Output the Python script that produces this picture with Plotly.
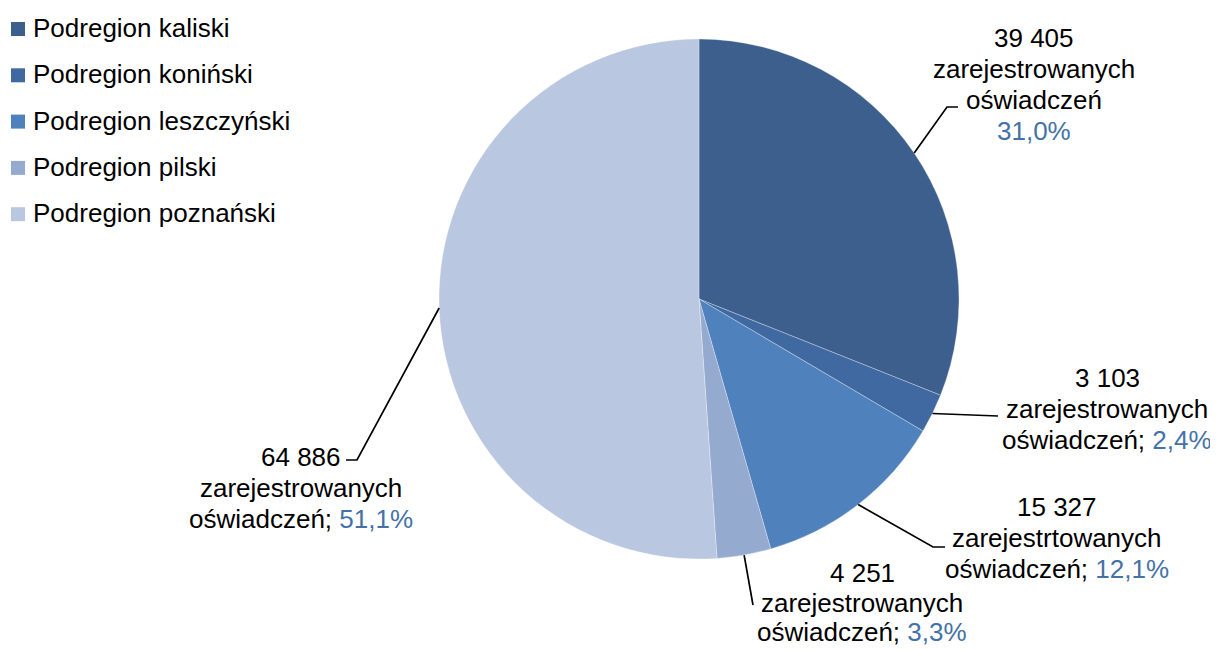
import math
import plotly.graph_objects as go

# ---------------- data ----------------
categories = ["Podregion kaliski", "Podregion koniński", "Podregion leszczyński",
              "Podregion pilski", "Podregion poznański"]
values = [39405, 3103, 15327, 4251, 64886]
label_words = ["zarejestrowanych", "zarejestrowanych", "zarejestrtowanych",
               "zarejestrowanych", "zarejestrowanych"]
percent_on_new_line = [True, False, False, False, False]

colors = ["#3C5F8D", "#4069A2", "#4F81BD", "#95AACF", "#BAC7E1"]
pct_color = "#4472A8"

# page offset (body margin) and figure size so that it fills the window
OFF = 8
W, H = 1218 - OFF, 650 - OFF
CX, CY, R = 699, 299, 260
FONT = "Liberation Sans, Arial, sans-serif"

def px(x):
    return (x - OFF) / W

def py(y):
    return 1 - (y - OFF) / H

total = sum(values)

fig = go.Figure()
fig.add_trace(go.Pie(
    labels=categories, values=values, sort=False, direction="clockwise",
    rotation=0, textinfo="none", hoverinfo="label+value+percent",
    marker=dict(colors=colors, line=dict(color="rgba(255,255,255,0.6)", width=0.5)),
    domain=dict(x=[px(CX - R), px(CX + R)], y=[py(CY + R), py(CY - R)]),
    showlegend=False,
))

# label placement (layout, pixels): x centre, first-line y, line step, elbow points
label_pos = [(1034, 38, 31), (1107, 378, 31), (1057, 507, 31), (862, 573, 29.5), (301, 457, 31)]
elbows = [
    [(947, 107), (958, 107)],
    [(998, 416)],
    [(933, 547), (945, 547)],
    [(753, 605)],
    [(357, 460), (346, 460)],
]

annotations = []
shapes = []
cum = 0
for i, (cat, v) in enumerate(zip(categories, values)):
    frac = v / total
    mid = (cum + frac / 2) * 2 * math.pi
    cum += frac
    sx = CX + R * math.sin(mid)
    sy = CY - R * math.cos(mid)
    num = f"{v:,}".replace(",", " ")
    pct = f"{frac*100:.1f}".replace(".", ",") + "%"
    pct_html = f"<span style='color:{pct_color}'>{pct}</span>"
    if percent_on_new_line[i]:
        lines = [num, label_words[i], "oświadczeń", pct_html]
    else:
        lines = [num, label_words[i], f"oświadczeń; {pct_html}"]
    lx, ly, dy = label_pos[i]
    for k, line in enumerate(lines):
        annotations.append(dict(
            x=px(lx), y=py(ly + k * dy), xref="paper", yref="paper", text=line,
            showarrow=False, xanchor="center", yanchor="middle", align="center",
            font=dict(family=FONT, size=26, color="#000000"),
        ))
    pts = [(sx, sy)] + elbows[i]
    path = "M " + " L ".join(f"{px(a)},{py(b)}" for a, b in pts)
    shapes.append(dict(type="path", xref="paper", yref="paper", path=path,
                       line=dict(color="#000000", width=1.7)))

# legend (drawn manually for exact spacing)
leg_y0, leg_dy = 29, 46.3
for i, cat in enumerate(categories):
    yc = leg_y0 + i * leg_dy
    shapes.append(dict(type="rect", xref="paper", yref="paper",
                       x0=px(11), x1=px(25), y0=py(yc + 7), y1=py(yc - 7),
                       fillcolor=colors[i], line=dict(width=0)))
    annotations.append(dict(
        x=px(31), y=py(yc - 1), xref="paper", yref="paper", text=cat,
        showarrow=False, xanchor="left", yanchor="middle",
        font=dict(family=FONT, size=26, color="#000000"),
    ))

fig.update_layout(
    width=W, height=H, margin=dict(l=0, r=0, t=0, b=0),
    paper_bgcolor="white", plot_bgcolor="white",
    annotations=annotations, shapes=shapes, showlegend=False,
)

fig.write_html("out.html")
